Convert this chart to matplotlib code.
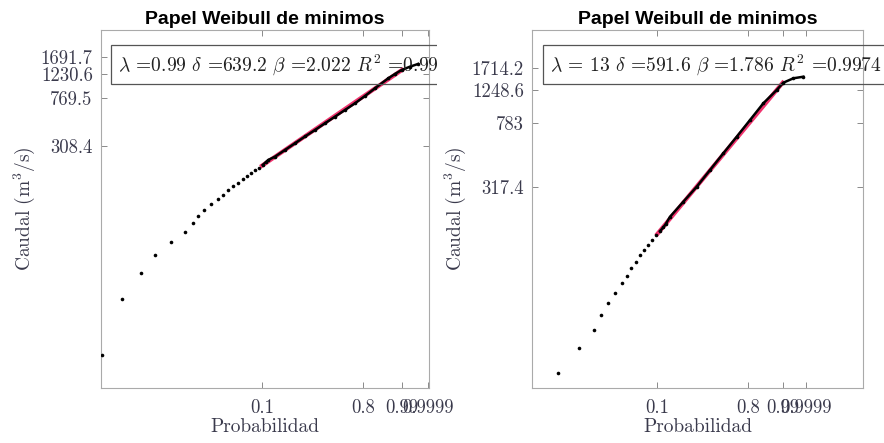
import numpy as np
import matplotlib
matplotlib.use('Agg')
from matplotlib import pyplot as plt
from matplotlib.patches import Rectangle

### data
# left panel (lambda = 0.99)
p_left = [0.00139, 0.00239, 0.00402, 0.00585, 0.00907, 0.0131, 0.0162, 0.0187,
          0.0220, 0.0265, 0.0319, 0.0361, 0.0409, 0.0467, 0.0532, 0.0607,
          0.0684, 0.0759, 0.0842, 0.0926, 0.1018, 0.1099, 0.1174, 0.1390,
          0.1780, 0.2264, 0.2856, 0.3562, 0.4382, 0.5301, 0.6282, 0.7263,
          0.8168, 0.8917, 0.9585, 0.9779, 0.9896, 0.9967, 0.99917]
q_left = [6.4, 17.1, 27.6, 38.2, 48.8, 59.3, 69.9, 79.9, 89.5, 100.4, 110.4,
          120.6, 131.2, 141.6, 151.7, 162.0, 172.4, 181.6, 192.3, 202.1, 212.9,
          224.2, 234.4, 249.7, 283.9, 322.9, 367.8, 416.9, 474.2, 538.4, 612.5,
          696.8, 802.0, 930.3, 1127, 1225, 1323, 1410, 1485]
fit_p_left = [0.1, 0.99]
fit_q_left = [210, 1323]
yticks_left = [308.4, 769.5, 1230.6, 1691.7]
lam_left = 0.99
text_left = r'$\lambda$ =0.99 $\delta$ =639.2 $\beta$ =2.022 $R^2$ =0.9978'

# right panel (lambda = 13)
p_right = [0.00523, 0.00982, 0.01539, 0.01914, 0.02379, 0.02878, 0.03573,
           0.04104, 0.04700, 0.05348, 0.06065, 0.06756, 0.07654, 0.08517,
           0.09637, 0.1080, 0.1186, 0.1269, 0.1431, 0.2059, 0.2919, 0.4027,
           0.5366, 0.6839, 0.8208, 0.9232, 0.97855, 0.99079, 0.99823, 0.999809]
q_right = [33.7, 42.6, 51.6, 60.7, 70.3, 79.2, 88.9, 97.3, 107.2, 116.2, 126.8,
           135.9, 145.6, 154.9, 165.6, 174.7, 183.5, 192.0, 211.8, 260.0, 320.0,
           403.9, 510.7, 646.0, 818.6, 1039.6, 1257.6, 1396, 1487, 1521]
fit_p_right = [0.1, 0.99]
fit_q_right = [168, 1396]
yticks_right = [317.4, 783, 1248.6, 1714.2]
lam_right = 13
text_right = r'$\lambda$ = 13 $\delta$ =591.6 $\beta$ =1.786 $R^2$ =0.9974'

xtick_probs = [0.1, 0.8, 0.99, 0.9999]


def reduced(p):
    # Weibull-of-minima paper: x = ln(-ln(1-p))
    return np.log(-np.log1p(-np.asarray(p, dtype=float)))


plt.rcParams['font.family'] = 'serif'
plt.rcParams['font.serif'] = ['cmr10']
plt.rcParams['mathtext.fontset'] = 'cm'
plt.rcParams['axes.unicode_minus'] = False

fig = plt.figure(figsize=(8.84, 4.43), dpi=100)
ax_l = fig.add_axes([0.1143, 0.1242, 0.3710, 0.8081])
ax_r = fig.add_axes([0.6022, 0.1242, 0.3744, 0.8081])

panels = [
    (ax_l, p_left, q_left, fit_p_left, fit_q_left, yticks_left, lam_left,
     text_left, (-6.594, 2.256), (3.87, 2858)),
    (ax_r, p_right, q_right, fit_p_right, fit_q_right, yticks_right, lam_right,
     text_right, (-6.015, 3.955), (29.7, 2978)),
]

texts = []
for ax, p, q, fp, fq, yt, lam, txt, xl, yl in panels:
    ax.set_yscale('function', functions=(lambda y, l=lam: np.log(np.clip(y - l, 1e-9, None)),
                                         lambda v, l=lam: np.exp(v) + l))
    x = reduced(p)
    q = np.asarray(q)
    dense = np.asarray(p) >= 0.1
    ax.plot(reduced(fp), fq, color='#f0336e', lw=3.0, zorder=2)
    ax.plot(x[dense], q[dense], color='black', lw=1.8, zorder=3)
    ax.plot(x, q, 'o', color='black', ms=2.6, mew=0, zorder=4)
    ax.set_xlim(*xl)
    ax.set_ylim(*yl)
    ax.set_xticks(reduced(xtick_probs), labels=[str(v) for v in xtick_probs])
    ax.set_yticks(yt, labels=[str(v) for v in yt])
    ax.tick_params(direction='in', length=4, width=0.6, color='#777777',
                   top=True, right=True, labelcolor='#3a3a4c', labelsize=13.5)
    ax.tick_params(axis='x', pad=8)
    ax.tick_params(axis='y', pad=6)
    for s in ax.spines.values():
        s.set_color('#aaaaaa')
        s.set_linewidth(0.8)
    ax.set_title('Papel Weibull de minimos', family='Liberation Sans',
                 fontweight='bold', fontsize=14, pad=4)
    ax.set_xlabel('Probabilidad', fontsize=14, color='#3a3a4c', labelpad=1)
    ax.set_ylabel(r'Caudal (m$^3$/s)', fontsize=14, color='#3a3a4c', labelpad=3)
    t = ax.text(0.052, 0.9036, txt, transform=ax.transAxes, ha='left', va='center',
                fontsize=14, color='#222222', zorder=3.5,
                bbox=dict(boxstyle='square,pad=0.35', fc='none', ec='#555555', lw=0.9))
    texts.append(t)

# the left scan is cut just past its right spine
clip = Rectangle((0, 0), 437 / 884, 1, transform=fig.transFigure)
texts[0].set_clip_on(True)
texts[0].set_clip_path(clip)

fig.savefig('out.png', dpi=100)
